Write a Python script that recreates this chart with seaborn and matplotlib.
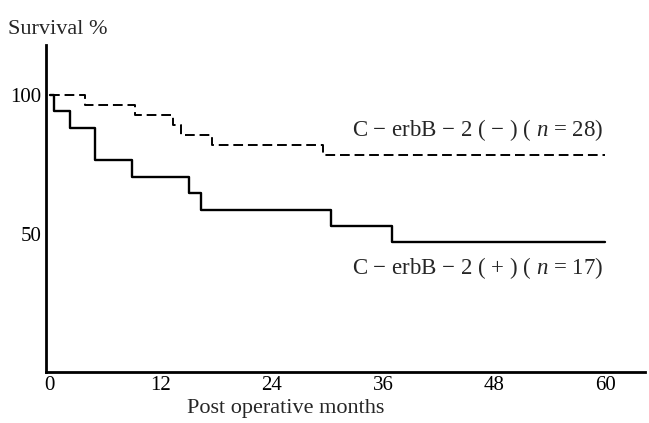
import matplotlib.pyplot as plt
import pandas as pd
import seaborn as sns

# Kaplan-Meier steps (months, survival %)
neg_months = [0, 3.8, 9.2, 13.3, 14.2, 17.5, 29.5, 60]
neg_surv = [100, 96.4, 92.9, 89.3, 85.7, 82.1, 78.6, 78.6]
pos_months = [0, 0.4, 2.2, 4.9, 8.9, 15.0, 16.3, 30.4, 37.0, 60]
pos_surv = [100, 94.1, 88.2, 76.5, 70.6, 64.7, 58.8, 52.9, 47.1, 47.1]
x_ticks = [0, 12, 24, 36, 48, 60]
y_ticks = [50, 100]
neg_label = "C − erbB − 2 ( − ) ( $\\it{n}$ = 28)"
pos_label = "C − erbB − 2 ( + ) ( $\\it{n}$ = 17)"

df_neg = pd.DataFrame({'month': neg_months, 'surv': neg_surv})
df_pos = pd.DataFrame({'month': pos_months, 'surv': pos_surv})

sns.set_style("white")
plt.rcParams['font.family'] = ['Liberation Serif', 'DejaVu Serif']
plt.rcParams['mathtext.fontset'] = 'custom'
plt.rcParams['mathtext.it'] = 'Liberation Serif:italic'

fig = plt.figure(figsize=(6.49, 4.23), dpi=100)
ax = fig.add_axes([0.0704, 0.1213, 0.9236, 0.7723])

sns.lineplot(data=df_neg, x='month', y='surv', ax=ax, drawstyle='steps-post',
             color='black', lw=1.4, linestyle=(0, (5, 2.5)), estimator=None,
             sort=False)
sns.lineplot(data=df_pos, x='month', y='surv', ax=ax, drawstyle='steps-post',
             color='black', lw=1.7, estimator=None, sort=False)

ax.set_xlim(-0.45, 64.3)
ax.set_ylim(0.5, 118)
ax.set_xticks(x_ticks)
ax.set_yticks(y_ticks)
ax.tick_params(direction='in', length=7, width=1.5, labelsize=15, colors='black')
ax.tick_params(axis='x', pad=3)
ax.tick_params(axis='y', pad=3)
for side in ['top', 'right']:
    ax.spines[side].set_visible(False)
for side in ['left', 'bottom']:
    ax.spines[side].set_linewidth(2)
    ax.spines[side].set_color('black')

ax.set_xlabel('Post operative months', fontsize=16)
ax.xaxis.set_label_coords(0.401, -0.085)
ax.set_ylabel('')
fig.text(0.012, 0.93, 'Survival %', fontsize=16, ha='left', va='center')

ax.text(59.8, 87.4, neg_label, fontsize=16.5, ha='right', va='center')
ax.text(59.8, 37.8, pos_label, fontsize=16.5, ha='right', va='center')

fig.savefig('out.png', dpi=100)
